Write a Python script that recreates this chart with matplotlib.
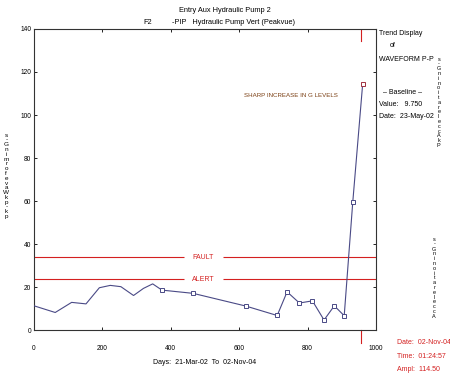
import matplotlib
matplotlib.use('Agg')
import matplotlib.pyplot as plt

days = [0, 62, 110, 152, 191, 223, 254, 291, 320, 347, 374, 465, 619, 711, 740, 776,
        814, 848, 878, 907, 932, 961]
gs = [11.3, 8.2, 12.9, 12.2, 19.7, 20.8, 20.2, 16.1, 19.4, 21.5, 18.6, 17.1, 11.2,
      6.8, 17.8, 12.6, 13.6, 4.7, 11.3, 6.7, 59.5, 114.5]
marked_from = 10          # points with square markers start here
fault_level = 33.8
alert_level = 23.6
cursor_day = 955

plt.rcParams['font.family'] = ['Liberation Sans', 'DejaVu Sans']

fig = plt.figure(figsize=(4.5, 3.76), dpi=100)
ax = fig.add_axes([0.0756, 0.122, 0.76, 0.801])
ax.set_xlim(0, 1000)
ax.set_ylim(0, 140)

line_c = '#4a4a86'
red = '#d42020'

# limit lines, broken where the label sits
for lvl, name in [(fault_level, 'FAULT'), (alert_level, 'ALERT')]:
    ax.hlines([lvl, lvl], [0, 553], [438, 1000], color=red, lw=0.8)
    ax.text(495, lvl, name, color=red, fontsize=5, ha='center', va='center')

ax.plot(days, gs, color=line_c, lw=0.8, zorder=3)
ax.plot(days[marked_from:-1], gs[marked_from:-1], ls='none', marker='s', ms=2.6,
        mfc='white', mec=line_c, mew=0.7, zorder=4)
ax.plot(days[-1:], gs[-1:], ls='none', marker='s', ms=2.6, mfc='white', mec='#a03040',
        mew=0.7, zorder=4)

# cursor marks
ax.plot([cursor_day, cursor_day], [134.5, 140], color=red, lw=0.8)
ax.plot([cursor_day, cursor_day], [-6, 0], color=red, lw=0.8, clip_on=False)

ax.text(750, 109, 'SHARP INCREASE IN G LEVELS', color='#7a3e12', fontsize=4.4,
        ha='center', va='center')

ax.set_xticks([0, 200, 400, 600, 800, 1000])
ax.set_yticks(range(0, 141, 20))
ax.tick_params(direction='in', length=2, width=0.6, labelsize=4.8, top=True, right=True)
ax.tick_params(axis='x', pad=11)
ax.tick_params(axis='y', pad=2)
for s in ax.spines.values():
    s.set_linewidth(0.8)
    s.set_color('#333333')
ax.set_xlabel('Days:  21-Mar-02  To  02-Nov-04', fontsize=5, labelpad=5)

fig.text(0.5, 0.972, 'Entry Aux Hydraulic Pump 2', fontsize=5.3, ha='center', va='center')
fig.text(0.318, 0.94, 'F2', fontsize=5.3, ha='left', va='center')
fig.text(0.383, 0.94, '-PIP   Hydraulic Pump Vert (Peakvue)', fontsize=5.3, ha='left',
         va='center')

side = dict(fontsize=5, ha='left', va='center')
fig.text(0.842, 0.912, 'Trend Display', **side)
fig.text(0.866, 0.878, 'of', **side)
fig.text(0.842, 0.843, 'WAVEFORM P-P', **side)
fig.text(0.851, 0.755, '\u2013 Baseline \u2013', **side)
fig.text(0.842, 0.723, 'Value:   9.750', **side)
fig.text(0.842, 0.689, 'Date:  23-May-02', **side)

fig.text(0.882, 0.088, 'Date:  02-Nov-04', color=red, **side)
fig.text(0.882, 0.053, 'Time:  01:24:57', color=red, **side)
fig.text(0.882, 0.016, 'Ampl:  114.50', color=red, **side)


def stacked(s):
    return '\n'.join(reversed(s.replace(' ', '')))


fig.text(0.014, 0.532, stacked('pk-pk Waveform in G-s'), fontsize=4.6, ha='center',
         va='center', linespacing=0.95)
fig.text(0.975, 0.728, stacked('Pk Acceleration in G-s'), fontsize=4.0, ha='center',
         va='center', linespacing=0.95)
fig.text(0.965, 0.261, stacked('Acceleration in G-s'), fontsize=4.0, ha='center',
         va='center', linespacing=0.95)

fig.savefig('out.png', dpi=100)
